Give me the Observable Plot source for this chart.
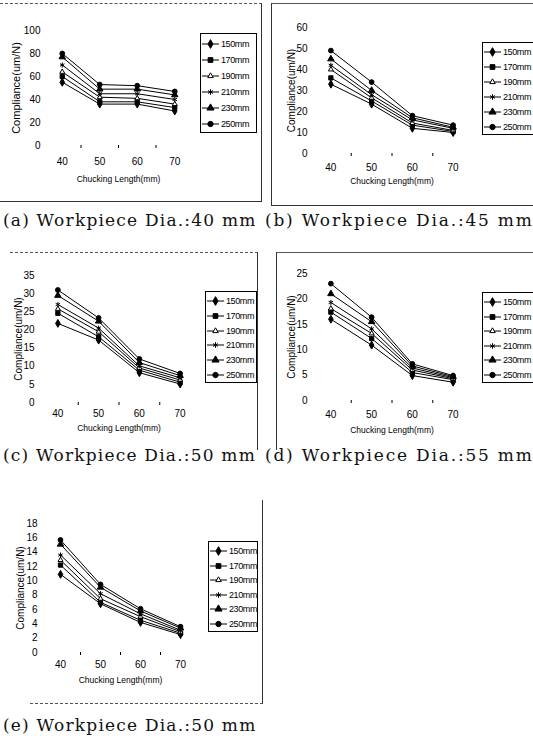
<!DOCTYPE html>
<html><head><meta charset="utf-8">
<script src="https://cdn.jsdelivr.net/npm/d3@7"></script>
<script src="https://cdn.jsdelivr.net/npm/@observablehq/plot@0.6"></script>
<style>
body{margin:0;background:#fff;}
#page{position:relative;width:533px;height:740px;overflow:hidden;background:#fff;}
.cap{position:absolute;font-family:"DejaVu Serif",serif;font-size:17px;line-height:18px;letter-spacing:1.2px;color:#111;white-space:nowrap;}
.legend{position:absolute;border:1px solid #000;box-sizing:border-box;background:#fff;font-family:"Liberation Sans",Arial,sans-serif;font-size:9px;letter-spacing:-0.4px;color:#000;overflow:hidden;}
.row{display:flex;align-items:center;white-space:nowrap;}
.box{position:absolute;box-sizing:border-box;}
</style></head><body><div id="page"></div>
<script>
const FONT = '"Liberation Sans",Arial,sans-serif';
const lengths = [40, 50, 60, 70];
const seriesNames = ["150mm", "170mm", "190mm", "210mm", "230mm", "250mm"];
const symbolNames = ["diamond", "square", "triangle2", "asterisk", "triangle", "circle"];
const symbolFills = ["#000", "#000", "#fff", "none", "#000", "#000"];
const xTickLabels = [40, 50, 60, 70];

// values per series (150..250mm) at chucking lengths 40..70
const valuesA = [[55,36,36,30],[60,38,38,33],[64,42,41,36],[70,45,45,40],[77,49,49,44],[80,53,52,47]];
const valuesB = [[33,23.5,12,10],[36,25,13.5,10.5],[40,26.5,14.5,11],[42,28,16,12],[45,30,17,12.5],[49,34,18,13.5]];
const valuesC = [[21.8,17.2,8.2,5.1],[24.6,18.1,8.9,5.6],[25.8,19.5,9.5,6.2],[27,20.5,10.1,6.8],[29.5,22.4,11,7.4],[31,23.3,12,8]];
const valuesD = [[16,10.9,4.9,3.6],[17.4,12.2,5.5,4.1],[18.1,13.2,6,4.3],[19.3,14.1,6.4,4.5],[21,15.5,6.8,4.7],[23,16.4,7.2,4.9]];
const valuesE = [[10.9,6.8,4.2,2.5],[12.2,7.0,4.5,2.7],[12.9,7.5,5,2.9],[13.6,8.2,5.4,3.1],[15.1,9.1,5.8,3.4],[15.7,9.5,6.1,3.6]];

const yTicksA = [0,20,40,60,80,100];
const yTicksB = [0,10,20,30,40,50,60];
const yTicksC = [0,5,10,15,20,25,30,35];
const yTicksD = [0,5,10,15,20,25];
const yTicksE = [0,2,4,6,8,10,12,14,16,18];

const captions = ["(a) Workpiece Dia.:40 mm","(b) Workpiece Dia.:45 mm","(c) Workpiece Dia.:50 mm","(d) Workpiece Dia.:55 mm","(e) Workpiece Dia.:50 mm"];

const page = document.getElementById("page");

function panel(p) {
  const data = [];
  seriesNames.forEach((s, i) => lengths.forEach((L, j) => data.push({s, L, v: p.values[i][j]})));
  const mL = 45, mT = 30, mR = 6, mB = 50;
  const w = p.x1 - p.x0 + mL + mR, h = p.yBot - p.yTop + mT + mB;
  const minor = d3.pairs(lengths, (a, b) => (a + b) / 2);
  const chart = Plot.plot({
    width: w, height: h,
    marginLeft: mL, marginRight: mR, marginTop: mT, marginBottom: mB,
    style: {fontFamily: FONT, fontSize: "10px", background: "transparent", overflow: "visible", color: "#000"},
    x: {type: "linear", domain: [35, 75]},
    y: {domain: [0, p.ymax]},
    marks: [
      Plot.axisY({ticks: p.yTicks, tickSize: 0, tickPadding: 3, label: null, line: true, fontSize: 10}),
      Plot.axisX({ticks: xTickLabels, tickSize: 0, tickPadding: p.xPad, label: null, line: true, fontSize: 10}),
      Plot.axisX({ticks: minor, tickSize: 3, tickFormat: () => "", label: null}),
      ...seriesNames.flatMap((s, i) => [
        Plot.line(data.filter(d => d.s === s), {x: "L", y: "v", stroke: "#000", strokeWidth: 1}),
        Plot.dot(data.filter(d => d.s === s), {x: "L", y: "v", symbol: symbolNames[i], r: 2.4, fill: symbolFills[i], stroke: "#000", strokeWidth: 1})
      ]),
      Plot.text(["Chucking Length(mm)"], {text: d => d, frameAnchor: "bottom", dy: p.xTitleDy, fontSize: 8.5, textAnchor: "middle"}),
      Plot.text(["Compliance(um/N)"], {text: d => d, frameAnchor: "left", dx: -p.yTitleDx, rotate: -90, textAnchor: "middle", fontSize: p.yTitleSize})
    ]
  });
  chart.style.position = "absolute";
  chart.style.left = (p.x0 - mL) + "px";
  chart.style.top = (p.yTop - mT) + "px";
  page.appendChild(chart);

  // legend
  const lg = document.createElement("div");
  lg.className = "legend";
  Object.assign(lg.style, {left: p.lg[0] + "px", top: p.lg[1] + "px", width: p.lg[2] + "px", height: p.lg[3] + "px", paddingTop: "2px"});
  const d3syms = [d3.symbolDiamond, d3.symbolSquare, d3.symbolTriangle2, d3.symbolAsterisk, d3.symbolTriangle, d3.symbolCircle];
  seriesNames.forEach((s, i) => {
    const row = document.createElement("div");
    row.className = "row";
    row.style.height = ((p.lg[3] - 4) / 6) + "px";
    const svg = d3.create("svg").attr("width", 19).attr("height", 10).style("flex", "none");
    svg.append("line").attr("x1", 1).attr("x2", 18).attr("y1", 5).attr("y2", 5).attr("stroke", "#000");
    svg.append("path").attr("transform", "translate(9.5,5)")
      .attr("d", d3.symbol(d3syms[i], 22)())
      .attr("fill", symbolFills[i]).attr("stroke", "#000");
    row.appendChild(svg.node());
    const t = document.createElement("span");
    t.textContent = s;
    t.style.marginLeft = "1px";
    row.appendChild(t);
    lg.appendChild(row);
  });
  page.appendChild(lg);
}

function box(l, t, w, h, borders) {
  const b = document.createElement("div");
  b.className = "box";
  Object.assign(b.style, {left: l + "px", top: t + "px", width: w + "px", height: h + "px"}, borders);
  page.appendChild(b);
}

// outer frames
box(0, 3, 262, 199, {borderTop: "1px dashed #555", borderRight: "1px solid #333", borderBottom: "1px solid #333"});
box(271, 3, 270, 203, {borderTop: "1px solid #555", borderLeft: "1px solid #333", borderBottom: "1px solid #333"});
box(10, 252, 248, 198, {borderTop: "1px dashed #555", borderRight: "1px solid #333"});
box(276, 252, 270, 198, {borderTop: "1px solid #555", borderLeft: "1px solid #333"});
box(30, 500, 233, 204, {borderRight: "1px solid #333", borderBottom: "1px dashed #555"});

panel({values: valuesA, yTicks: yTicksA, ymax: 100, x0: 43, x1: 193, yTop: 30, yBot: 145, xPad: 12, xTitleDy: 36, yTitleDx: 27, yTitleSize: 11, lg: [200, 33, 57, 100]});
panel({values: valuesB, yTicks: yTicksB, ymax: 60, x0: 310, x1: 473, yTop: 27, yBot: 153, xPad: 10, xTitleDy: 30, yTitleDx: 19, yTitleSize: 10, lg: [482, 42, 55, 93]});
panel({values: valuesC, yTicks: yTicksC, ymax: 35, x0: 37, x1: 200, yTop: 275, yBot: 402, xPad: 7, xTitleDy: 28, yTitleDx: 19, yTitleSize: 10, lg: [205, 291, 52, 92]});
panel({values: valuesD, yTicks: yTicksD, ymax: 25, x0: 310, x1: 473, yTop: 273, yBot: 400, xPad: 10, xTitleDy: 32, yTitleDx: 19, yTitleSize: 10, lg: [482, 292, 55, 91]});
panel({values: valuesE, yTicks: yTicksE, ymax: 18, x0: 40, x1: 200, yTop: 523, yBot: 652, xPad: 8, xTitleDy: 30, yTitleDx: 20, yTitleSize: 10, lg: [208, 541, 50, 91]});

// captions
[[3, 211, 1.2], [265, 211, 1.8], [3, 446, 1.2], [265, 446, 1.8], [3, 716, 1.2]].forEach(([l, t, ls], i) => {
  const c = document.createElement("div");
  c.className = "cap";
  c.style.left = l + "px";
  c.style.top = t + "px";
  c.style.letterSpacing = ls + "px";
  c.textContent = captions[i];
  page.appendChild(c);
});
</script></body></html>
